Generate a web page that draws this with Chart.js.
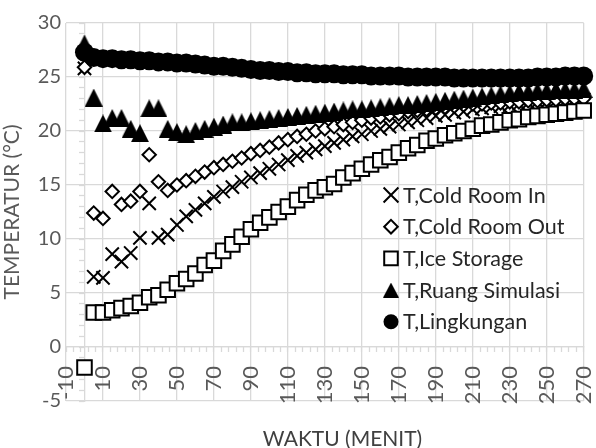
<!DOCTYPE html>
<html>
<head>
<meta charset="utf-8">
<script src="https://cdn.jsdelivr.net/npm/chart.js@4.4.1/dist/chart.umd.min.js"></script>
<style>
html,body{margin:0;padding:0;background:#ffffff;}
#c{display:block;}
</style>
</head>
<body>
<canvas id="c" width="596" height="448"></canvas>
<script>
// ---------------- data ----------------
const minutes = [0,5,10,15,20,25,30,35,40,45,50,55,60,65,70,75,80,85,90,95,100,105,110,115,120,125,130,135,140,145,150,155,160,165,170,175,180,185,190,195,200,205,210,215,220,225,230,235,240,245,250,255,260,265,270];

const coldRoomIn = [25.8,6.5,6.4,8.6,7.9,8.7,10.1,13.3,10.1,10.4,11.3,12.1,12.7,13.3,13.9,14.4,14.8,15.3,15.7,16.1,16.5,16.9,17.3,17.7,18.0,18.3,18.6,18.9,19.2,19.5,19.7,20.0,20.2,20.4,20.6,20.8,21.0,21.2,21.4,21.5,21.7,21.8,22.0,22.1,22.2,22.3,22.4,22.5,22.6,22.7,22.7,22.8,22.8,22.9,22.9];

const coldRoomOut = [25.9,12.4,11.9,14.4,13.2,13.5,14.4,17.8,15.3,14.5,15.0,15.4,15.8,16.2,16.6,16.9,17.2,17.5,17.9,18.2,18.5,18.9,19.2,19.5,19.7,20.0,20.2,20.4,20.6,20.8,21.0,21.2,21.3,21.5,21.6,21.8,21.9,22.0,22.1,22.2,22.3,22.4,22.5,22.5,22.6,22.6,22.7,22.7,22.8,22.8,22.9,22.9,23.0,23.0,23.0];

const iceStorage = [-1.9,3.2,3.2,3.4,3.6,3.8,4.1,4.6,4.8,5.3,5.9,6.3,6.8,7.6,8.0,8.9,9.5,10.2,10.9,11.5,12.0,12.5,13.0,13.6,14.1,14.5,14.8,15.1,15.7,16.1,16.5,16.9,17.3,17.6,18.0,18.4,18.7,19.1,19.3,19.6,19.8,20.0,20.2,20.5,20.6,20.8,21.0,21.1,21.3,21.4,21.5,21.6,21.7,21.8,21.9];

const ruangSimulasi = [28.1,23.1,20.7,21.2,21.2,20.2,19.8,22.1,22.1,20.2,19.9,19.7,20.0,20.2,20.4,20.6,20.8,20.8,20.9,21.0,21.1,21.2,21.3,21.4,21.5,21.6,21.7,21.8,21.9,22.0,22.0,22.1,22.2,22.3,22.4,22.4,22.5,22.6,22.7,22.8,22.9,23.0,23.1,23.2,23.3,23.4,23.5,23.6,23.6,23.7,23.7,23.8,23.8,23.8,23.9];

const lingkungan = [27.3,26.8,26.7,26.7,26.6,26.6,26.5,26.5,26.4,26.4,26.3,26.3,26.2,26.1,26.0,26.0,25.9,25.8,25.7,25.6,25.6,25.5,25.5,25.4,25.4,25.3,25.3,25.3,25.2,25.2,25.2,25.1,25.1,25.1,25.1,25.0,25.0,25.0,25.0,25.0,24.9,24.9,24.9,24.9,24.9,24.9,24.9,24.9,24.9,25.0,25.0,25.0,25.1,25.1,25.1];

const seriesNames = ['T,Cold Room In','T,Cold Room Out','T,Ice Storage','T,Ruang Simulasi','T,Lingkungan'];
const xTicks = { min: -10, max: 270, step: 20, minorStep: 4 };
const yTicks = { min: -5, max: 30, step: 5, minorStep: 1 };
const xTitle = 'WAKTU (MENIT)';
const yTitle = 'TEMPERATUR (\u00B0C)';

// ---------------- styling ----------------
const FONT = 'Lato';
const GRID = '#d9d9d9';

function pts(values) { return values.map((v, i) => ({ x: minutes[i], y: v })); }

function triangleMarker(w, h) {
  const c = document.createElement('canvas');
  c.width = w; c.height = h;
  const g = c.getContext('2d');
  g.fillStyle = '#000';
  g.beginPath();
  g.moveTo(w / 2, 0);
  g.lineTo(w, h);
  g.lineTo(0, h);
  g.closePath();
  g.fill();
  return c;
}
const triPlot = triangleMarker(18, 18);
const triLegend = triangleMarker(16, 15);

const styles = [
  { pointStyle: 'crossRot', radius: 9.4, bg: '#000', bw: 2, order: 5, legendRadius: 10.5 },
  { pointStyle: 'rectRot', radius: 6.7, bg: '#fff', bw: 2, order: 4, legendRadius: 6.8 },
  { pointStyle: 'rect', radius: 10.3, bg: '#fff', bw: 2, order: 3, legendRadius: 9.6 },
  { pointStyle: triPlot, radius: 9, bg: '#000', bw: 0, order: 2, legendStyle: triLegend, legendRadius: 8 },
  { pointStyle: 'circle', radius: 9.5, bg: '#000', bw: 0, order: 1, legendRadius: 7.5 }
];
const seriesData = [coldRoomIn, coldRoomOut, iceStorage, ruangSimulasi, lingkungan];

const datasets = seriesData.map((vals, i) => ({
  label: seriesNames[i],
  data: pts(vals),
  showLine: false,
  pointStyle: styles[i].pointStyle,
  pointRadius: styles[i].radius,
  pointHoverRadius: styles[i].radius,
  pointBorderWidth: styles[i].bw,
  pointBorderColor: '#000',
  pointBackgroundColor: styles[i].bg,
  borderColor: '#000',
  backgroundColor: styles[i].bg,
  order: styles[i].order,
  clip: false
}));

function zeroPad(s) { s.paddingLeft = 0; s.paddingRight = 0; s.paddingTop = 0; s.paddingBottom = 0; }

const overlay = {
  id: 'overlay',
  afterDraw(chart) {
    const ctx = chart.ctx;
    const area = chart.chartArea;
    ctx.save();
    // x axis title
    ctx.font = '21px ' + FONT;
    ctx.fillStyle = '#404040';
    ctx.textAlign = 'center';
    ctx.textBaseline = 'alphabetic';
    ctx.fillText(xTitle, area.left + 276.5, 446);
    // legend (inside plot area)
    const markX = 391, textX = 403, firstRow = 195, rowGap = 31.7;
    ctx.font = '21.5px ' + FONT;
    ctx.textAlign = 'left';
    for (let i = 0; i < seriesNames.length; i++) {
      const cy = firstRow + i * rowGap;
      const st = styles[i];
      ctx.fillStyle = st.bg;
      ctx.strokeStyle = '#000';
      ctx.lineWidth = st.bw;
      Chart.helpers.drawPoint(ctx, { pointStyle: st.legendStyle || st.pointStyle, radius: st.legendRadius, rotation: 0, borderWidth: st.bw }, markX, cy);
      ctx.fillStyle = '#262626';
      ctx.fillText(seriesNames[i], textX, cy + 7.6);
    }
    ctx.restore();
  }
};

new Chart(document.getElementById('c'), {
  type: 'scatter',
  data: { datasets },
  plugins: [overlay],
  options: {
    responsive: false,
    animation: false,
    events: [],
    layout: { padding: { top: 23, right: 6, bottom: 47, left: 0 } },
    plugins: { legend: { display: false }, tooltip: { enabled: false } },
    scales: {
      x: {
        type: 'linear',
        position: { y: 0 },
        min: xTicks.min, max: xTicks.max,
        ticks: {
          stepSize: xTicks.step, autoSkip: false, maxRotation: 90, minRotation: 90,
          padding: 19, color: '#595959', font: { family: FONT, size: 22 }
        },
        grid: { color: GRID, lineWidth: 1.3, drawTicks: false },
        border: { display: true, color: GRID, width: 1.3 },
        afterFit: zeroPad
      },
      xMinor: {
        type: 'linear',
        position: { y: 0 },
        min: xTicks.min, max: xTicks.max,
        ticks: { stepSize: xTicks.minorStep, display: false, autoSkip: false },
        grid: { drawOnChartArea: false, drawTicks: true, tickLength: 5, tickColor: GRID, tickWidth: 1.3 },
        border: { display: false },
        afterFit: zeroPad
      },
      y: {
        type: 'linear',
        position: 'left',
        min: yTicks.min, max: yTicks.max,
        ticks: { stepSize: yTicks.step, padding: 5, color: '#595959', font: { family: FONT, size: 20 } },
        grid: { color: GRID, lineWidth: 1.3, drawTicks: false },
        border: { display: false },
        title: { display: true, text: yTitle, color: '#595959', font: { family: FONT, size: 21 }, padding: 0 },
        afterFit(s) { s.width = 66; s.paddingTop = 0; s.paddingBottom = 0; }
      },
      yMinor: {
        type: 'linear',
        position: { x: 0 },
        min: yTicks.min, max: yTicks.max,
        ticks: { stepSize: yTicks.minorStep, display: false, autoSkip: false },
        grid: { drawOnChartArea: false, drawTicks: true, tickLength: 5, tickColor: GRID, tickWidth: 1.3 },
        border: { display: true, color: GRID, width: 1.3 },
        afterFit: zeroPad
      }
    }
  }
});
</script>
</body>
</html>
